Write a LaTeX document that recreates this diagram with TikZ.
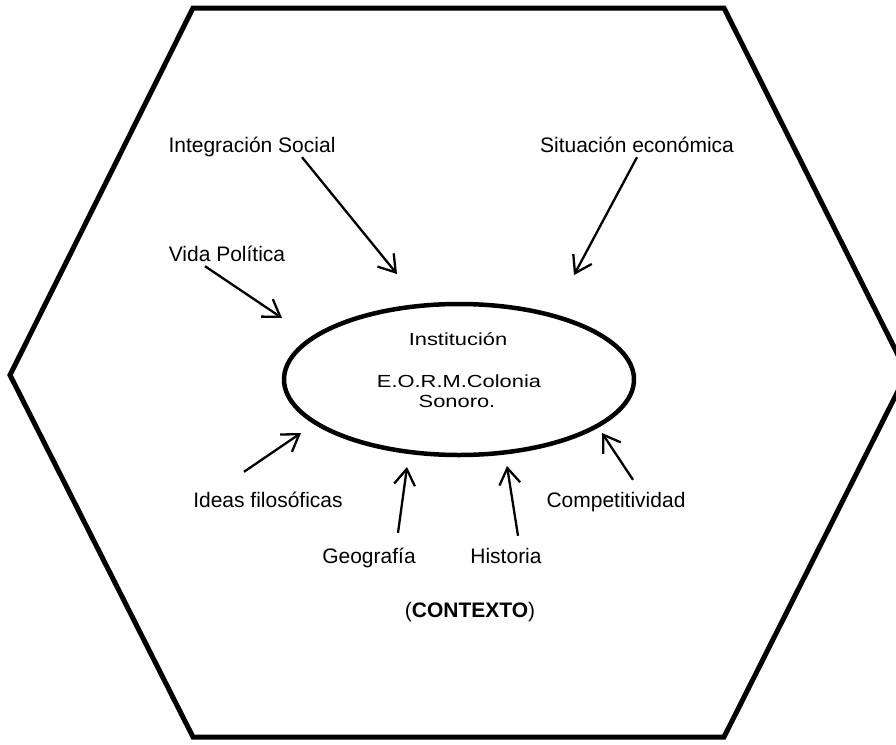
\documentclass[tikz,border=0pt]{standalone}
\usepackage{fontspec}
\setmainfont{Liberation Sans}
\newfontfamily\widefont{Liberation Sans}[FakeStretch=1.25]
\usetikzlibrary{arrows.meta,shapes.geometric}

\begin{document}
\begin{tikzpicture}[x=1pt, y=-1pt,
    factor/.style = {anchor=base, inner sep=0pt, text height=16pt, text depth=5pt,
                     font=\fontsize{21}{25}\selectfont},
    inline/.style = {anchor=base, inner sep=0pt, font=\widefont\fontsize{17.5}{19.6}\selectfont},
    inflow/.style = {line width=2.3pt, -{Straight Barb[length=16pt, width=21pt]}}]
  \clip (0,0) rectangle (896,744);
  \draw[line width=5pt, line join=miter]
    (193,8) -- (724,8) -- (907,373) -- (724,737) -- (193,737) -- (10,375) -- cycle;

  \node[ellipse, draw, line width=4.5pt, minimum width=350pt, minimum height=151pt] (inst) at (459,379.5) {};
  \node[inline] (instname) at (458,345.7) {Institución};
  \node[inline] (instschool) at (459,387.7) {E.O.R.M.Colonia};
  \node[inline] (instplace) at (457,407.3) {Sonoro.};

  \node[factor] (integ) at (252,152) {Integración Social};
  \node[factor] (situ) at (637,152) {Situación económica};
  \node[factor] (vida) at (227,261) {Vida Política};
  \node[factor] (ideas) at (268,507) {Ideas filosóficas};
  \node[factor] (comp) at (616,507) {Competitividad};
  \node[factor] (geog) at (369,563) {Geografía};
  \node[factor] (hist) at (506,563) {Historia};
  \node[factor] (ctx) at (470,617) {(\textbf{CONTEXTO})};

  \coordinate (integtip) at (397,274);
  \coordinate (situtip) at (574,275);
  \coordinate (vidatip) at (282,318);
  \coordinate (ideastip) at (301,433);
  \coordinate (comptip) at (602,433);
  \coordinate (geogtip) at (407,467);
  \coordinate (histtip) at (507,466);

  \draw[inflow] ([xshift=50pt]integ.south) -- (integtip);
  \draw[inflow] (situ.south) -- (situtip);
  \draw[inflow] ([xshift=-22pt]vida.south) -- (vidatip);
  \draw[inflow] ([xshift=-24pt,yshift=19pt]ideas.north) -- (ideastip);
  \draw[inflow] ([xshift=17pt,yshift=11pt]comp.north) -- (comptip);
  \draw[inflow] ([xshift=29pt,yshift=14pt]geog.north) -- (geogtip);
  \draw[inflow] ([xshift=12pt,yshift=11pt]hist.north) -- (histtip);
\end{tikzpicture}
\end{document}
